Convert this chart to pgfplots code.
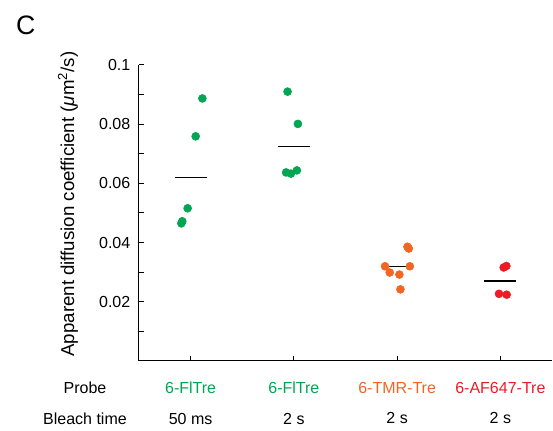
\documentclass[border=0pt]{standalone}
\usepackage{pgfplots}
\pgfplotsset{compat=1.18}
\usepackage{fontspec}
\setmainfont{Liberation Sans}
\definecolor{fgreen}{RGB}{0,166,81}
\definecolor{forange}{RGB}{242,101,34}
\definecolor{fred}{RGB}{237,28,36}
\newcommand{\lblfont}{\fontsize{12}{23}\selectfont}
\begin{document}
\begin{tikzpicture}
\useasboundingbox (-104.25pt,-52.5pt) rectangle (310.5pt,270.75pt);
\begin{axis}[
  scale only axis, width=309.75pt, height=222pt,
  xmin=0.5, xmax=4.5, ymin=0, ymax=0.1,
  axis lines*=left,
  axis line style={line width=0.75pt},
  xtick pos=bottom, ytick pos=left,
  tick align=inside,
  major tick length=4pt, minor tick length=4pt,
  tick style={line width=0.75pt, black},
  xtick={1,2,3,4},
  xticklabels={
    {\textcolor{fgreen}{6-FlTre}\\50 ms},
    {\textcolor{fgreen}{6-FlTre}\\2 s},
    {\textcolor{forange}{6-TMR-Tre}\\2 s},
    {\textcolor{fred}{6-AF647-Tre}\\2 s}},
  xticklabel style={align=center, anchor=north, inner sep=0pt, font=\lblfont, yshift=-15.5pt},
  ytick={0.02,0.04,0.06,0.08,0.1},
  yticklabels={0.02,0.04,0.06,0.08,0.1},
  minor ytick={0.01,0.03,0.05,0.07,0.09},
  yticklabel style={font=\lblfont, xshift=-3pt},
  ylabel={Apparent diffusion coefficient (\textit{μ}m\textsuperscript{2}/s)},
  ylabel style={at={(axis description cs:-0.172,0.53)}, anchor=center, font=\fontsize{14}{16}\selectfont},
  clip=false,
]
\addplot[only marks, mark=*, mark size=3pt, fgreen, mark options={draw=fgreen, fill=fgreen}] coordinates {
  (1.114,0.0887) (1.049,0.0759) (0.971,0.0516) (0.919,0.0472) (0.910,0.0465)};
\addplot[only marks, mark=*, mark size=3pt, fgreen, mark options={draw=fgreen, fill=fgreen}] coordinates {
  (1.939,0.0910) (2.039,0.0801) (1.925,0.0637) (1.971,0.0633) (2.029,0.0644)};
\addplot[only marks, mark=*, mark size=3pt, forange, mark options={draw=forange, fill=forange}] coordinates {
  (3.100,0.0386) (3.113,0.0380) (2.883,0.0320) (3.123,0.0320) (2.928,0.0299) (3.022,0.0292) (3.032,0.0242)};
\addplot[only marks, mark=*, mark size=3pt, fred, mark options={draw=fred, fill=fred}] coordinates {
  (4.032,0.0316) (4.058,0.0321) (3.987,0.0227) (4.061,0.0224)};
\addplot[black, line width=1pt] coordinates {(0.845,0.0620) (1.155,0.0620)};
\addplot[black, line width=1pt] coordinates {(1.845,0.0724) (2.155,0.0724)};
\addplot[black, line width=1pt] coordinates {(2.845,0.0320) (3.155,0.0320)};
\addplot[black, line width=1pt] coordinates {(3.845,0.0270) (4.155,0.0270)};
\node[anchor=north, align=center, inner sep=0pt, font=\lblfont] at (axis cs:-0.023,0) [yshift=-15.5pt] {Probe\\Bleach time};
\node[font=\fontsize{20}{22}\selectfont] at (axis description cs:-0.274,1.135) {C};
\end{axis}
\end{tikzpicture}
\end{document}
